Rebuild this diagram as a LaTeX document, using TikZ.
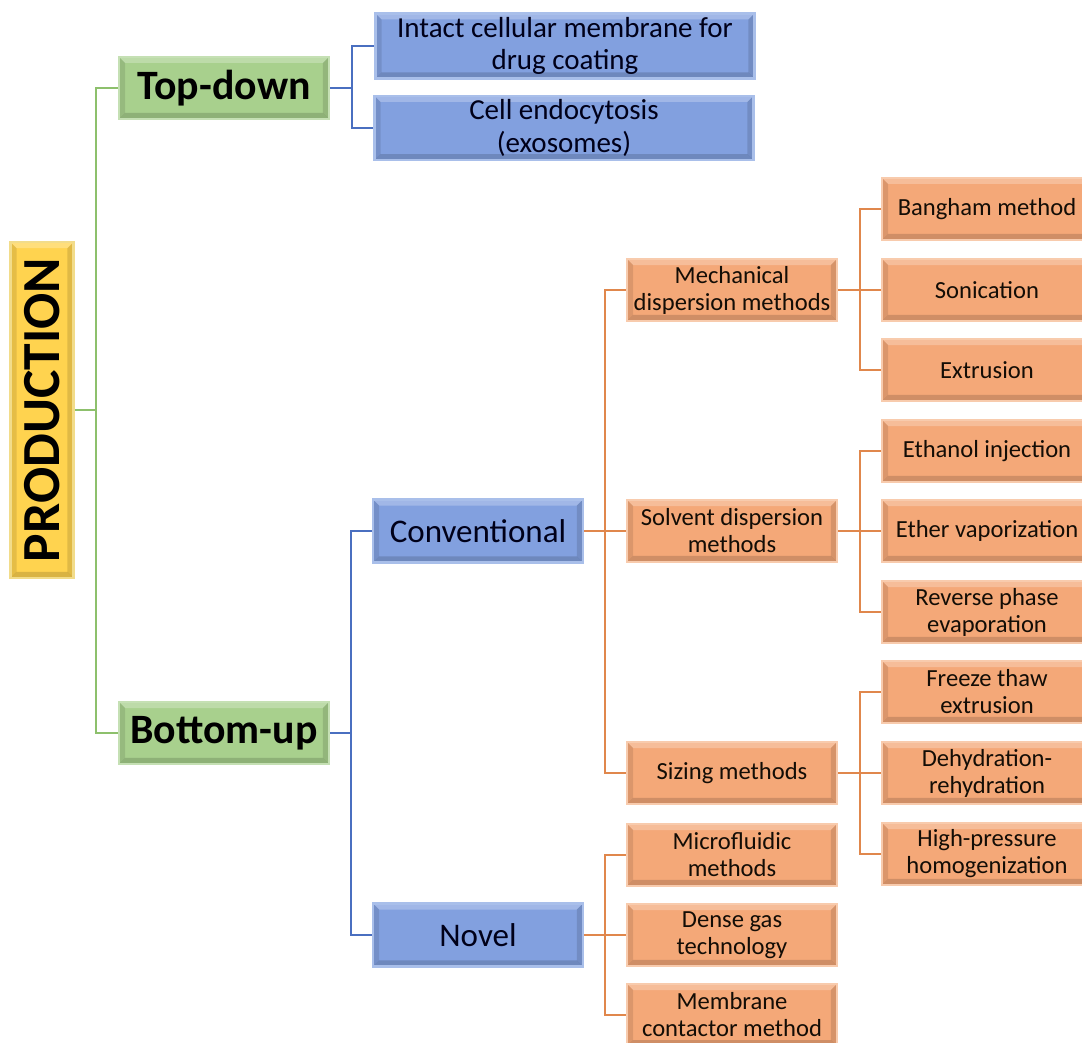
\documentclass[tikz,border=0pt]{standalone}
\usepackage{fontspec}
\setmainfont{Carlito}
\usepackage{tikz}
\usetikzlibrary{positioning}

\definecolor{prodfill}{HTML}{FFD34F}
\definecolor{prodline}{HTML}{F2DC8A}
\definecolor{greenfill}{HTML}{A8D08D}
\definecolor{greenline}{HTML}{C5E0B4}
\definecolor{greenedge}{HTML}{8DC06C}
\definecolor{bluefill}{HTML}{82A0DF}
\definecolor{blueline}{HTML}{A9BFEA}
\definecolor{blueedge}{HTML}{4A6FC0}
\definecolor{orfill}{HTML}{F4A878}
\definecolor{orline}{HTML}{F8CBAD}
\definecolor{oredge}{HTML}{E0874C}

% bevelled edges of a box
\newcommand{\bevel}{%
  \fill[white, opacity=.25] (path picture bounding box.north west) -- ++(0.12cm,-0.12cm)
    -- ([shift={(-0.12cm,-0.12cm)}]path picture bounding box.north east)
    -- (path picture bounding box.north east) -- cycle;
  \fill[black, opacity=.10] (path picture bounding box.north west) -- ++(0.12cm,-0.12cm)
    -- ([shift={(0.12cm,0.12cm)}]path picture bounding box.south west)
    -- (path picture bounding box.south west) -- cycle;
  \fill[black, opacity=.15] (path picture bounding box.south west) -- ++(0.12cm,0.12cm)
    -- ([shift={(-0.12cm,0.12cm)}]path picture bounding box.south east)
    -- (path picture bounding box.south east) -- cycle;
  \fill[black, opacity=.12] (path picture bounding box.south east) -- ++(-0.12cm,0.12cm)
    -- ([shift={(-0.12cm,-0.12cm)}]path picture bounding box.north east)
    -- (path picture bounding box.north east) -- cycle;
}

\begin{document}
\begin{tikzpicture}[x=0.02cm, y=-0.02cm]
	\tikzstyle{box} = [draw, line width=1.2pt, inner sep=2pt, align=center,
	path picture={\bevel}]
	\tikzstyle{prodbox} = [box, fill=prodfill, draw=prodline,
	minimum width=1.26cm, minimum height=6.72cm]
	\tikzstyle{greenbox} = [box, fill=greenfill, draw=greenline,
	minimum width=4.2cm, minimum height=1.24cm, font=\fontsize{23.8}{27}\selectfont\bfseries]
	\tikzstyle{bluebox} = [box, fill=bluefill, draw=blueline, text=black!90!blue,
	minimum width=4.2cm, minimum height=1.26cm, font=\fontsize{18.8}{21}\selectfont]
	\tikzstyle{widebox} = [bluebox, minimum width=7.58cm, font=\fontsize{16.5}{18.7}\selectfont]
	\tikzstyle{methbox} = [box, fill=orfill, draw=orline, text=black!90!brown,
	minimum width=4.2cm, minimum height=1.24cm, font=\fontsize{14}{15.4}\selectfont]
	\tikzstyle{greenlink} = [greenedge, line width=1.1pt]
	\tikzstyle{bluelink} = [blueedge, line width=1.1pt]
	\tikzstyle{orlink} = [oredge, line width=1.1pt]

	\clip (0,0) rectangle (1082,1043);
	\fill[white] (0,0) rectangle (1082,1043);

	% root
	\node[prodbox] (prod) at (42,410)
		{\rotatebox{90}{\fontsize{30.5}{34}\selectfont\bfseries PRODUCTION}};

	% first level
	\node[greenbox] (td) at (224,88) {Top-down};
	\node[greenbox] (bu) at (224,733) {Bottom-up};

	% second level
	\node[widebox] (intact) at (565,46) {Intact cellular membrane for\\drug coating};
	\node[widebox] (endo) at (564,128) {Cell endocytosis\\(exosomes)};
	\node[bluebox] (conv) at (478,531) {Conventional};
	\node[bluebox] (novel) at (478,935) {Novel};

	% third level
	\node[methbox] (mech) at (732,290) {Mechanical\\dispersion methods};
	\node[methbox] (solv) at (732,531) {Solvent dispersion\\methods};
	\node[methbox] (sizing) at (732,773) {Sizing methods};
	\node[methbox] (micro) at (732,855) {Microfluidic\\methods};
	\node[methbox] (dense) at (732,935) {Dense gas\\technology};
	\node[methbox] (membr) at (732,1015) {Membrane\\contactor method};

	% fourth level
	\node[methbox] (bangham) at (987,209) {Bangham method};
	\node[methbox] (sonic) at (987,290) {Sonication};
	\node[methbox] (extr) at (987,370) {Extrusion};
	\node[methbox] (ethanol) at (987,451) {Ethanol injection};
	\node[methbox] (ether) at (987,531) {Ether vaporization};
	\node[methbox] (reverse) at (987,612) {Reverse phase\\evaporation};
	\node[methbox] (freeze) at (987,692) {Freeze thaw\\extrusion};
	\node[methbox] (dehyd) at (987,773) {Dehydration-\\rehydration};
	\node[methbox] (highp) at (987,854) {High-pressure\\homogenization};

	% junctions
	\coordinate (jprod) at (96,410);
	\coordinate (jtd) at (352,88);
	\coordinate (jbu) at (351,733);
	\coordinate (jconv) at (605,531);
	\coordinate (jnovel) at (605,935);
	\coordinate (jmech) at (860,290);
	\coordinate (jsolv) at (860,531);
	\coordinate (jsizing) at (860,773);

	\draw[greenlink] (prod.east) -- (jprod) (jprod) |- (td.west) (jprod) |- (bu.west);
	\draw[bluelink] (td.east) -- (jtd) (jtd) |- (intact.west) (jtd) |- (endo.west);
	\draw[bluelink, line width=1.6pt] (bu.east) -- (jbu);
	\draw[bluelink] (jbu) |- (conv.west) (jbu) |- (novel.west);
	\draw[orlink] (conv.east) -- (jconv) (jconv) |- (mech.west)
		(jconv) |- (solv.west) (jconv) |- (sizing.west);
	\draw[orlink] (novel.east) -- (jnovel) (jnovel) |- (micro.west)
		(jnovel) |- (dense.west) (jnovel) |- (membr.west);
	\draw[orlink] (mech.east) -- (jmech) (jmech) |- (bangham.west)
		(jmech) |- (sonic.west) (jmech) |- (extr.west);
	\draw[orlink] (solv.east) -- (jsolv) (jsolv) |- (ethanol.west)
		(jsolv) |- (ether.west) (jsolv) |- (reverse.west);
	\draw[orlink] (sizing.east) -- (jsizing) (jsizing) |- (freeze.west)
		(jsizing) |- (dehyd.west) (jsizing) |- (highp.west);
\end{tikzpicture}
\end{document}
